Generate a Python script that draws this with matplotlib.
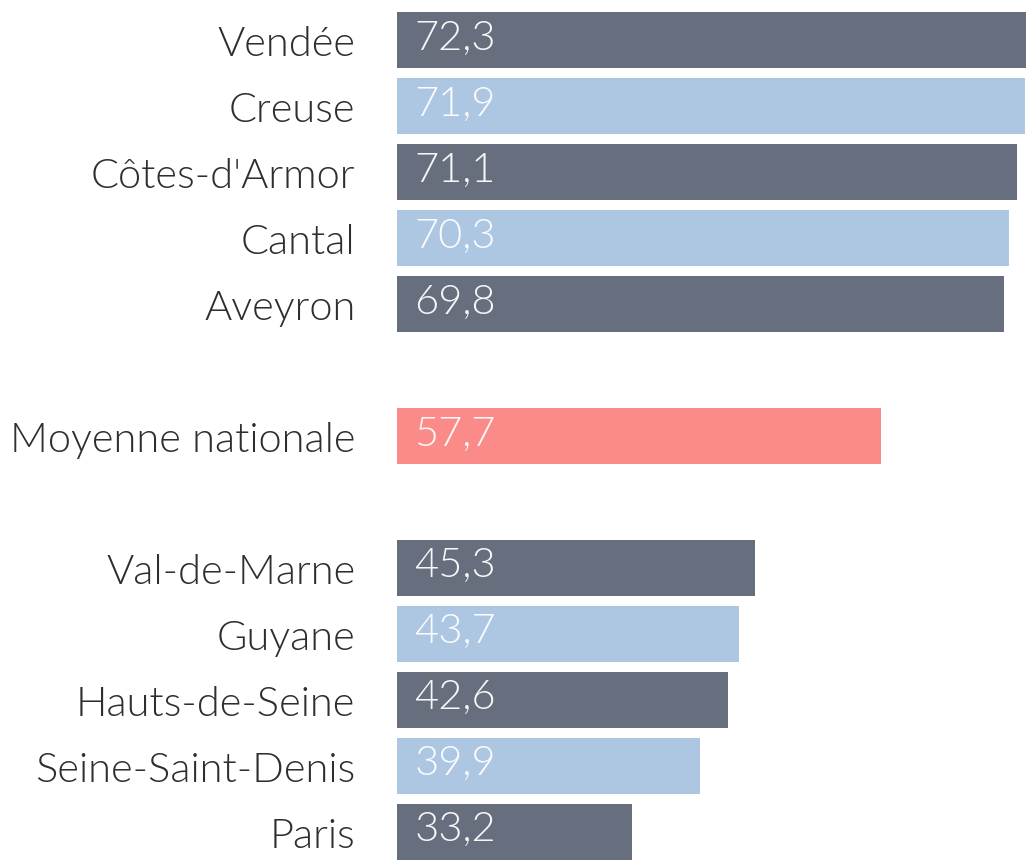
import matplotlib.pyplot as plt
import numpy as np

plt.rcParams['font.family'] = ['Lato', 'DejaVu Sans']

# data
departements = ['Vendée', 'Creuse', "Côtes-d'Armor", 'Cantal', 'Aveyron',
                'Moyenne nationale',
                'Val-de-Marne', 'Guyane', 'Hauts-de-Seine', 'Seine-Saint-Denis', 'Paris']
valeurs = [72.3, 71.9, 71.1, 70.3, 69.8, 57.7, 45.3, 43.7, 42.6, 39.9, 33.2]
groupe = ['top', 'top', 'top', 'top', 'top', 'moy', 'bas', 'bas', 'bas', 'bas', 'bas']

DARK = '#676e7e'
LIGHT = '#adc6e2'
RED = '#fb8b89'

# rows with a gap of one slot around the national average
pos = []
y = 0
prev = None
for g in groupe:
    if prev is not None and g != prev:
        y += 1
    pos.append(y)
    y += 1
    prev = g

colors = []
k = 0
for g in groupe:
    if g == 'moy':
        colors.append(RED)
        k = 0
    else:
        colors.append(DARK if k % 2 == 0 else LIGHT)
        k += 1

fig = plt.figure(figsize=(10.26, 8.61), dpi=100)
ax = fig.add_axes([397/1026, 0, 1 - 397/1026, 1])
ax.barh(pos, valeurs, height=0.85, color=colors, left=0)
ax.set_xlim(10, 72)
ax.set_ylim(12.44, -0.61)
ax.axis('off')

for p, v, name in zip(pos, valeurs, departements):
    ax.text(11.7, p + 0.14, f'{v:.1f}'.replace('.', ','), va='baseline', ha='left',
            color='white', fontsize=30, fontweight=300, alpha=0.95)
    ax.annotate(name, xy=(0, p + 0.24), xycoords=('axes fraction', 'data'),
                xytext=(-30, 0), textcoords='offset points',
                ha='right', va='baseline', fontsize=30, fontweight=300,
                color='#2e2e2e')

fig.savefig('out.png', dpi=100)
